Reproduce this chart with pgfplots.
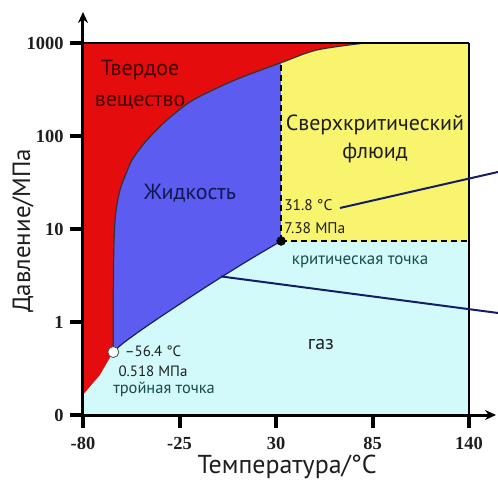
\documentclass[border=0pt]{standalone}
\usepackage{fontspec}
\setmainfont{PT Sans}
\newfontfamily\serifb{Liberation Serif}
\usepackage{pgfplots}
\usepackage{pgfplotstable}
\pgfplotsset{compat=1.18}
\usetikzlibrary{arrows.meta}
\definecolor{cred}{RGB}{228,12,12}
\definecolor{cblue}{RGB}{92,92,240}
\definecolor{cyel}{RGB}{248,244,110}
\definecolor{ccyan}{RGB}{210,250,250}
\definecolor{cnavy}{RGB}{20,30,100}
\definecolor{ctext}{RGB}{30,30,30}
% solid-liquid boundary
\pgfplotstableread{
T Y
-62.73 0.677
-62.73 1.237
-62.45 1.774
-61.48 2.151
-58.91 2.419
-54.92 2.620
-51.50 2.760
-43.52 2.957
-32.12 3.172
-19.01 3.366
-5.90 3.495
9.48 3.624
33.99 3.796
53.37 3.925
80.73 4.000
}\solidliquid
% solid-supercritical part of the same boundary
\pgfplotstableread{
T Y
32.90 3.787
33.99 3.796
53.37 3.925
80.73 4.000
}\solidsuper
% liquid-gas boundary
\pgfplotstableread{
T Y
-62.73 0.677
-57.03 0.774
-43.69 0.955
-24.71 1.195
-5.73 1.428
13.30 1.652
32.90 1.871
}\liquidgas
\begin{document}
\begin{tikzpicture}[x=1bp,y=1bp]
\begin{axis}[at={(0,0)}, anchor=south west, scale only axis,
  width=386bp, height=372bp,
  xmin=-80, xmax=140, ymin=0, ymax=4,
  clip=false, axis on top,
  axis x line=bottom, axis y line=left,
  axis line style={line width=3bp, black},
  x axis line style={-{Stealth[length=11bp,width=10bp]}, shorten >=-27bp},
  y axis line style={-{Stealth[length=11bp,width=10bp]}, shorten >=-31bp},
  xtick={-80,-25,30,85,140}, xticklabels={-80,-25,30,85,140},
  ytick={0,1,2,3,4}, yticklabels={0,1,10,100,1000},
  tick align=outside, major tick length=13bp,
  tick style={line width=4bp, black},
  ticklabel style={font=\serifb\bfseries\fontsize{18.5}{18.5}\selectfont, text=ctext},
  xticklabel style={yshift=-6bp},
  yticklabel style={xshift=-3bp},
]
% solid everywhere first
\addplot[fill=cred, draw=none] coordinates {(-80,0)(140,0)(140,4)(-80,4)} -- cycle;
% liquid: below solid-liquid curve
\addplot[fill=cblue, draw=none, smooth, tension=0.5] table[x=T,y=Y] {\solidliquid} \closedcycle;
% supercritical
\addplot[fill=cyel, draw=none, smooth, tension=0.5] table[x=T,y=Y] {\solidsuper} \closedcycle;
\addplot[fill=cyel, draw=none] coordinates {(80.73,0)(140,0)(140,4)(80.73,4)} -- cycle;
% gas
\addplot[fill=ccyan, draw=none, smooth, tension=0.5] table[x=T,y=Y] {\liquidgas} \closedcycle;
\addplot[fill=ccyan, draw=none] coordinates {(32.5,0)(140,0)(140,1.871)(32.5,1.871)} -- cycle;
\addplot[fill=ccyan, draw=none] coordinates {(-80,0)(-80,0.215)(-70.3,0.430)(-62.73,0.677)(-60,0.55)(-60,0)} -- cycle;
% boundaries
\addplot[black!80, line width=1.2bp, smooth, tension=0.5] table[x=T,y=Y] {\solidliquid};
\addplot[cnavy, line width=1.2bp, smooth, tension=0.5] table[x=T,y=Y] {\liquidgas};
% dashed
\addplot[black, line width=1.8bp, dash pattern=on 6bp off 4bp] coordinates {(32.9,1.871)(32.9,3.787)};
\addplot[black, line width=1.8bp, dash pattern=on 6bp off 4bp] coordinates {(32.9,1.871)(140,1.871)};
% borders
\addplot[black, line width=1.5bp] coordinates {(140,0)(140,4)};
\addplot[black, line width=2.5bp] coordinates {(-80,4)(140,4)};
% pointer lines
\addplot[cnavy, line width=2bp] coordinates {(66.5,2.226)(156.5,2.613)};
\addplot[cnavy, line width=2bp] coordinates {(-1.35,1.49)(156.5,1.097)};
% points
\addplot[only marks, mark=*, mark size=4.5bp, black] coordinates {(32.9,1.871)};
\addplot[only marks, mark=*, mark size=5.5bp, draw=black!70, fill=white, line width=0.8bp] coordinates {(-62.73,0.677)};
% texts
\node[font=\fontsize{22}{31}\selectfont, text=black!75!red, align=center] at (axis cs:-47.5,3.55) {Твердое\\вещество};
\node[font=\fontsize{22}{24}\selectfont, text=cnavy!80!black] at (axis cs:-19.0,2.387) {Жидкость};
\node[font=\fontsize{22}{28}\selectfont, text=ctext, align=center] at (axis cs:86.4,2.968) {Сверхкритический\\флюид};
\node[font=\fontsize{15.5}{23}\selectfont, text=ctext, align=left, anchor=west, inner sep=0pt] at (axis cs:34.6,2.135) {31.8 °C\\7.38 МПа};
\node[font=\fontsize{17}{18}\selectfont, text=ctext!80!cyan] at (axis cs:77.9,1.645) {критическая точка};
\node[font=\fontsize{20}{22}\selectfont, text=ctext] at (axis cs:55.6,0.753) {газ};
\node[font=\fontsize{15}{16}\selectfont, text=ctext, inner sep=0pt] at (axis cs:-40.1,0.688) {–56.4 °C};
\node[font=\fontsize{15}{16}\selectfont, text=ctext, inner sep=0pt] at (axis cs:-40.1,0.467) {0.518 МПа};
\node[font=\fontsize{16.5}{17}\selectfont, text=ctext!80!cyan, inner sep=0pt] at (axis cs:-33.8,0.275) {тройная точка};
\node[font=\fontsize{26}{28}\selectfont, text=ctext] at (axis cs:36.3,-0.559) {Температура/°C};
\node[font=\fontsize{25}{28}\selectfont, text=ctext, rotate=90] at (axis cs:-114.2,1.98) {Давление/МПа};
\end{axis}
\pgfresetboundingbox
\path[use as bounding box] (-83,-68) rectangle (415,415);
\end{tikzpicture}
\end{document}
